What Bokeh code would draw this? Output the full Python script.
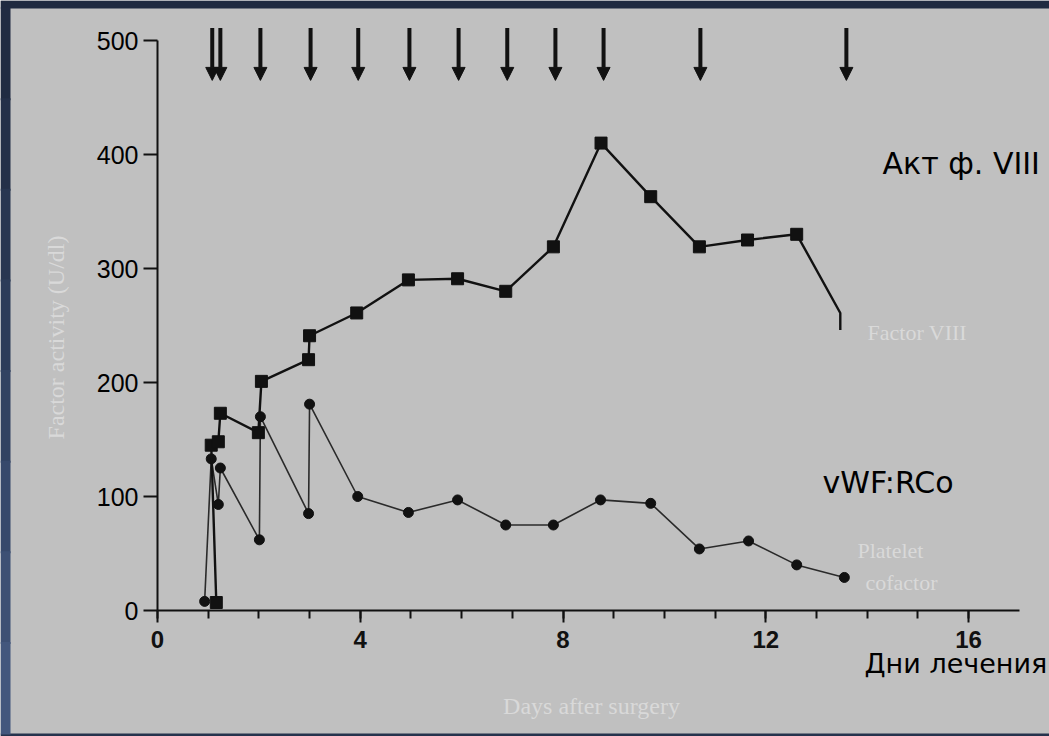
import math
from bokeh.plotting import figure
from bokeh.models import Range1d, FixedTicker, Label, Arrow, NormalHead, ColumnDataSource, BoxAnnotation
from bokeh.embed import file_html
from bokeh.resources import INLINE

# ---- data ----
# Factor VIII activity (squares)
fviii_x = [1.16, 1.06, 1.20, 1.24, 1.99, 2.05, 2.98, 3.00, 3.93, 4.95, 5.92, 6.87,
           7.81, 8.75, 9.73, 10.69, 11.64, 12.61, 13.47, 13.47]
fviii_y = [7, 145, 148, 173, 156, 201, 220, 241, 261, 290, 291, 280,
           319, 410, 363, 319, 325, 330, 261, 246]
fviii_marked = 18  # the last two points carry no marker

# Platelet cofactor / vWF:RCo (circles)
rco_x = [0.93, 1.06, 1.20, 1.24, 2.01, 2.03, 2.98, 3.00, 3.95, 4.95, 5.92, 6.87,
         7.81, 8.74, 9.73, 10.69, 11.66, 12.61, 13.55]
rco_y = [8, 133, 93, 125, 62, 170, 85, 181, 100, 86, 97, 75,
         75, 97, 94, 54, 61, 40, 29]

# infusion times (arrows on top)
dose_x = [1.08, 1.24, 2.03, 3.02, 3.96, 4.97, 5.94, 6.90, 7.85, 8.80, 10.71, 13.59]

x_ticks = [0, 4, 8, 12, 16]
x_minor = list(range(0, 17))
y_ticks = [0, 100, 200, 300, 400, 500]

BG = "#c0c0c0"
INK = "#111111"

W, H = 1049, 736
PX_PER_X = 50.69
PX_PER_Y = 1.14
X0_PX, Y0_PX = 157, 610

def dx(px):
    return (px - X0_PX) / PX_PER_X

def dy(py):
    return (Y0_PX - py) / PX_PER_Y

p = figure(width=W, height=H,
           x_range=Range1d(dx(0), dx(W)), y_range=Range1d(dy(H), dy(0)),
           output_backend="svg", toolbar_location=None,
           min_border_left=0, min_border_right=0,
           min_border_top=0, min_border_bottom=0)
p.background_fill_color = BG
p.border_fill_color = BG
p.outline_line_color = None
p.grid.visible = False

# dark slide background strips around the grey picture
p.add_layout(BoxAnnotation(bottom=dy(8), fill_color="#1f2a40", fill_alpha=1, line_color=None))
p.add_layout(BoxAnnotation(top=dy(733), fill_color="#26334d", fill_alpha=1, line_color=None))
strip_cols = ["#202b42", "#243049", "#283651", "#2d3c59", "#324362", "#37496b", "#3d5074", "#43577d"]
n = len(strip_cols)
step = 725 / n
for i, c in enumerate(strip_cols):
    p.add_layout(BoxAnnotation(right=dx(10), top=dy(8 + i * step - 1), bottom=dy(8 + (i + 1) * step + 1),
                               fill_color=c, fill_alpha=1, line_color=None))

# x axis
xa = p.xaxis[0]
xa.fixed_location = 0
xa.bounds = (0, 17)
xa.ticker = FixedTicker(ticks=x_ticks, minor_ticks=x_minor)
xa.axis_line_width = 2
xa.axis_line_color = INK
xa.major_tick_line_width = 2
xa.major_tick_line_color = INK
xa.minor_tick_line_width = 2
xa.minor_tick_line_color = INK
xa.major_tick_in = 0
xa.major_tick_out = 12
xa.minor_tick_in = 0
xa.minor_tick_out = 8
xa.major_label_standoff = 8
xa.major_label_text_font = "Liberation Sans"
xa.major_label_text_font_style = "bold"
xa.major_label_text_font_size = "24px"
xa.major_label_text_color = INK

# y axis
ya = p.yaxis[0]
ya.fixed_location = 0
ya.bounds = (0, 500)
ya.ticker = FixedTicker(ticks=y_ticks, minor_ticks=[])
ya.axis_line_width = 2
ya.axis_line_color = INK
ya.major_tick_line_width = 2
ya.major_tick_line_color = INK
ya.major_tick_in = 0
ya.major_tick_out = 14
ya.minor_tick_out = 0
ya.major_label_standoff = 5
ya.major_label_text_font = "Liberation Sans"
ya.major_label_text_font_size = "25px"
ya.major_label_text_color = "#000000"

# series
p.line(rco_x, rco_y, line_color="#2a2a2a", line_width=1.6)
p.scatter(rco_x, rco_y, marker="circle", size=10, fill_color=INK, line_color=INK)

p.line(fviii_x, fviii_y, line_color=INK, line_width=2.4)
p.scatter(fviii_x[:fviii_marked], fviii_y[:fviii_marked], marker="square", size=12,
          fill_color=INK, line_color=INK)

# arrows
arrow_src = ColumnDataSource(dict(x=dose_x, y0=[511] * len(dose_x), y1=[465] * len(dose_x)))
p.add_layout(Arrow(end=NormalHead(size=13, fill_color=INK, line_color=INK),
                   x_start="x", y_start="y0", x_end="x", y_end="y1",
                   line_width=4, line_color=INK, source=arrow_src))

# overlaid slide labels
def lab(x, y, t, size, color="#000000", font="DejaVu Sans", align="left", angle=0.0,
        baseline="alphabetic"):
    p.add_layout(Label(x=x, y=y, text=t, text_font=font, text_font_size=size,
                       text_color=color, text_align=align, text_baseline=baseline,
                       angle=angle))

lab(dx(882), dy(163), "Акт ф. VIII", "30px")
lab(dx(822), dy(482), "vWF:RCo", "30px")
lab(dx(864), dy(663), "Дни лечения", "27px")

# faded original figure labels
FAINT = "#d9d9d9"
lab(dx(867), dy(332), "Factor VIII", "22px", color=FAINT, font="Liberation Serif")
lab(dx(857), dy(550), "Platelet", "22px", color=FAINT, font="Liberation Serif")
lab(dx(865), dy(582), "cofactor", "22px", color=FAINT, font="Liberation Serif")
lab(dx(591), dy(705), "Days after surgery", "24px", color=FAINT, font="Liberation Serif", align="center")
lab(dx(55), dy(337), "Factor activity (U/dl)", "24px", color=FAINT, font="Liberation Serif",
    align="center", angle=math.pi / 2, baseline="middle")

open("out.html", "w").write(file_html(p, INLINE))
